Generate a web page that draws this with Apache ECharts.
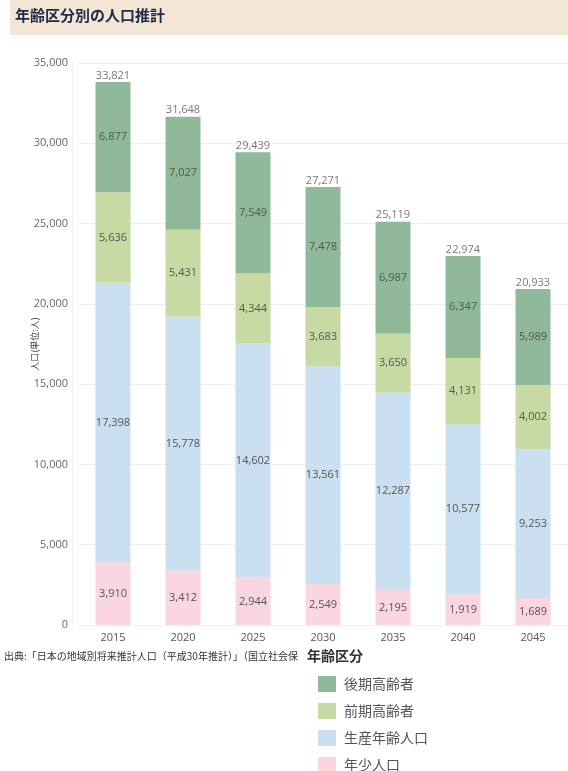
<!DOCTYPE html>
<html>
<head>
<meta charset="utf-8">
<script src="https://cdn.jsdelivr.net/npm/echarts@6/dist/echarts.min.js"></script>
<style>
  html, body { margin: 0; padding: 0; background: #fff; }
  #chart { width: 568px; height: 771px; }
</style>
</head>
<body>
<div id="chart"></div>
<script>
// Population projection by age group (people)
const years = ['2015', '2020', '2025', '2030', '2035', '2040', '2045'];
const youth = [3910, 3412, 2944, 2549, 2195, 1919, 1689];          // 年少人口
const working = [17398, 15778, 14602, 13561, 12287, 10577, 9253];  // 生産年齢人口
const earlyElderly = [5636, 5431, 4344, 3683, 3650, 4131, 4002];   // 前期高齢者
const lateElderly = [6877, 7027, 7549, 7478, 6987, 6347, 5989];    // 後期高齢者
const totals = [33821, 31648, 29439, 27271, 25119, 22974, 20933];
const yTicks = [0, 5000, 10000, 15000, 20000, 25000, 30000, 35000];

const fmt = v => Number(v).toLocaleString('en-US');
const jp = '"Noto Sans CJK JP", "Noto Sans", sans-serif';
const num = '"Open Sans", "Noto Sans", sans-serif';

const colors = {
  '後期高齢者': '#8fb999',
  '前期高齢者': '#c8daa3',
  '生産年齢人口': '#cadff0',
  '年少人口': '#fad6e0'
};

function segment(name, data) {
  return {
    name: name,
    type: 'bar',
    stack: 'pop',
    barWidth: 35,
    data: data,
    itemStyle: { color: colors[name] },
    label: {
      show: true,
      position: 'inside',
      formatter: p => fmt(p.value),
      color: '#555',
      fontFamily: num,
      fontSize: 11
    },
    emphasis: { disabled: true }
  };
}

const chart = echarts.init(document.getElementById('chart'), null, { renderer: 'canvas' });
chart.setOption({
  animation: false,
  backgroundColor: '#fff',
  grid: { left: 78, right: -2, top: 63, bottom: 146 },
  xAxis: {
    type: 'category',
    data: years,
    axisLine: { show: false },
    axisTick: { show: false },
    axisLabel: { color: '#555', fontFamily: num, fontSize: 11, margin: 7 }
  },
  yAxis: {
    type: 'value',
    min: 0,
    max: yTicks[yTicks.length - 1],
    interval: yTicks[1] - yTicks[0],
    offset: 6,
    name: '人口(単位:人)',
    nameLocation: 'middle',
    nameGap: 33,
    nameMoveOverlap: false,
    nameTextStyle: { color: '#444', fontFamily: jp, fontSize: 9 },
    axisLine: { show: true, lineStyle: { color: '#f0f0f0' } },
    axisTick: { show: false },
    axisLabel: { color: '#666', fontFamily: num, fontSize: 11, margin: 4, formatter: v => fmt(v) },
    splitLine: { lineStyle: { color: '#efefef' } }
  },
  legend: {
    orient: 'vertical',
    left: 313,
    top: 671,
    height: 110,
    itemWidth: 18,
    itemHeight: 16,
    itemGap: 11,
    icon: 'rect',
    data: ['後期高齢者', '前期高齢者', '生産年齢人口', '年少人口'],
    textStyle: { color: '#555', fontFamily: jp, fontSize: 14, padding: [0, 0, 0, 3] },
    selectedMode: false
  },
  graphic: [
    { type: 'rect', left: 10, top: 0, shape: { width: 558, height: 35 }, style: { fill: '#f3e6d6' }, silent: true },
    { type: 'text', left: 15, top: 8, style: { text: '年齢区分別の人口推計', fill: '#1f2a44', font: 'bold 15px ' + jp } },
    { type: 'text', left: 4, top: 651, style: { text: '出典:「日本の地域別将来推計人口（平成30年推計）」（国立社会保障・人口問題研究所）', fill: '#333', font: '10px ' + jp, width: 298, overflow: 'truncate', ellipsis: '' } },
    { type: 'text', left: 307, top: 649, style: { text: '年齢区分', fill: '#333', font: 'bold 14px ' + jp } }
  ],
  series: [
    segment('年少人口', youth),
    segment('生産年齢人口', working),
    segment('前期高齢者', earlyElderly),
    segment('後期高齢者', lateElderly),
    {
      name: 'total',
      type: 'scatter',
      data: totals,
      symbolSize: 0,
      silent: true,
      label: {
        show: true,
        position: 'top',
        distance: 1,
        formatter: p => fmt(p.value),
        color: '#555',
        fontFamily: num,
        fontSize: 11
      }
    }
  ]
});
</script>
</body>
</html>
